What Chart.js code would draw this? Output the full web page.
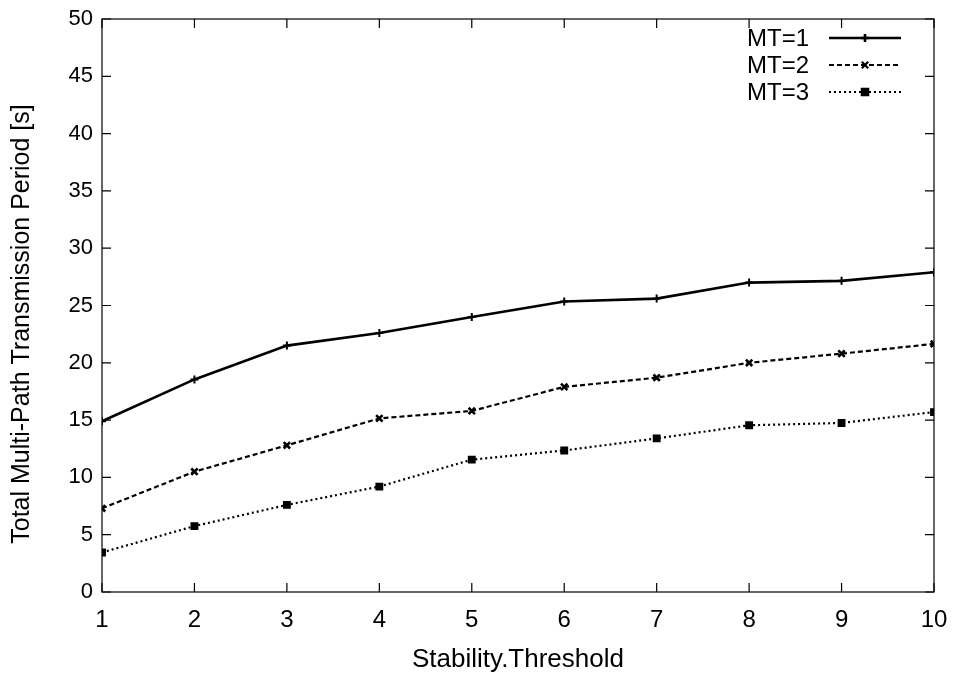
<!DOCTYPE html>
<html>
<head>
<meta charset="utf-8">
<script src="https://cdn.jsdelivr.net/npm/chart.js@4/dist/chart.umd.min.js"></script>
<style>
  html, body { margin: 0; padding: 0; background: #fff; }
  #wrap { width: 953px; height: 679px; }
</style>
</head>
<body>
<div id="wrap"><canvas id="chart" width="953" height="679"></canvas></div>
<script>
const thresholds = [1, 2, 3, 4, 5, 6, 7, 8, 9, 10];
const mt1 = [14.9, 18.55, 21.5, 22.6, 24.0, 25.35, 25.6, 27.0, 27.15, 27.9];
const mt2 = [7.3, 10.5, 12.8, 15.15, 15.8, 17.9, 18.7, 20.0, 20.8, 21.65];
const mt3 = [3.45, 5.75, 7.6, 9.2, 11.55, 12.35, 13.4, 14.55, 14.75, 15.7];
const seriesNames = ["MT=1", "MT=2", "MT=3"];
const yTicks = [0, 5, 10, 15, 20, 25, 30, 35, 40, 45, 50];
const yTitle = "Total Multi-Path Transmission Period [s]";

const FONT = "'Liberation Sans', Arial, sans-serif";

const toPoints = (vals) => thresholds.map((x, i) => ({ x: x, y: vals[i] }));

// gnuplot style: inward ticks on all four sides, full frame, key top right
const frame = {
  id: "frame",
  afterDraw(chart) {
    const { ctx, chartArea: a, scales } = chart;
    ctx.save();
    ctx.strokeStyle = "#000";
    ctx.lineWidth = 1.2;
    ctx.strokeRect(a.left, a.top, a.right - a.left, a.bottom - a.top);
    ctx.beginPath();
    thresholds.forEach((v) => {
      const x = scales.x.getPixelForValue(v);
      ctx.moveTo(x, a.bottom); ctx.lineTo(x, a.bottom - 9);
      ctx.moveTo(x, a.top); ctx.lineTo(x, a.top + 9);
    });
    yTicks.forEach((v) => {
      const y = scales.y.getPixelForValue(v);
      ctx.moveTo(a.left, y); ctx.lineTo(a.left + 9, y);
      ctx.moveTo(a.right, y); ctx.lineTo(a.right - 9, y);
    });
    ctx.stroke();

    // y title
    ctx.fillStyle = "#000";
    ctx.font = "25px " + FONT;
    ctx.textAlign = "center";
    ctx.textBaseline = "middle";
    ctx.translate(22, 324);
    ctx.rotate(-Math.PI / 2);
    ctx.fillText(yTitle, 0, 0);
    ctx.setTransform(1, 0, 0, 1, 0, 0);

    // key
    ctx.font = "24px " + FONT;
    ctx.textAlign = "right";
    chart.data.datasets.forEach((ds, i) => {
      const y = 38 + i * 27;
      ctx.fillText(seriesNames[i], 809, y + 1);
      ctx.beginPath();
      ctx.setLineDash(ds.borderDash || []);
      ctx.lineWidth = ds.borderWidth;
      ctx.moveTo(829, y); ctx.lineTo(901, y);
      ctx.stroke();
      ctx.setLineDash([]);
      Chart.helpers.drawPoint(ctx, {
        pointStyle: ds.pointStyle,
        radius: ds.pointRadius,
        borderWidth: ds.pointBorderWidth,
      }, 865, y);
    });
    ctx.restore();
  },
};

const lineStyle = (dash, width, style, radius, pw) => ({
  borderColor: "#000",
  backgroundColor: "#000",
  borderWidth: width,
  borderDash: dash,
  pointStyle: style,
  pointRadius: radius,
  pointBorderWidth: pw,
  pointBackgroundColor: "#000",
  pointBorderColor: "#000",
  tension: 0,
  fill: false,
});

new Chart(document.getElementById("chart").getContext("2d"), {
  type: "line",
  data: {
    datasets: [
      { label: seriesNames[0], data: toPoints(mt1), ...lineStyle([], 2.6, "cross", 4, 2) },
      { label: seriesNames[1], data: toPoints(mt2), ...lineStyle([5, 3], 2.2, "crossRot", 4.5, 2.6) },
      { label: seriesNames[2], data: toPoints(mt3), ...lineStyle([2, 3], 2.2, "rect", 4.5, 1.5) },
    ],
  },
  options: {
    responsive: false,
    animation: false,
    layout: { padding: { top: 19, right: 19, left: 0, bottom: 0 } },
    plugins: { legend: { display: false }, tooltip: { enabled: false } },
    elements: { line: { borderCapStyle: "butt" } },
    scales: {
      x: {
        type: "linear",
        min: 1,
        max: 10,
        grid: { display: false, drawTicks: false },
        border: { display: false },
        afterFit(s) { s.height = 87; s.paddingLeft = 0; s.paddingRight = 0; },
        ticks: { stepSize: 1, color: "#000", padding: 14, font: { family: FONT, size: 24 } },
        title: { display: true, text: "Stability.Threshold", color: "#000", padding: { top: 4 }, font: { family: FONT, size: 26 } },
      },
      y: {
        min: 0,
        max: 50,
        grid: { display: false, drawTicks: false },
        border: { display: false },
        afterFit(s) { s.width = 102; s.paddingTop = 0; s.paddingBottom = 0; },
        ticks: { stepSize: 5, color: "#000", padding: 9, font: { family: FONT, size: 22 } },
      },
    },
  },
  plugins: [frame],
});
</script>
</body>
</html>
